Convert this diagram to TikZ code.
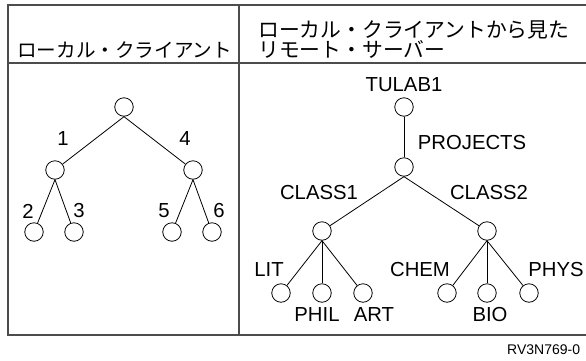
\documentclass[tikz,border=0pt]{standalone}
\usepackage{fontspec}
\setmainfont{Liberation Sans}
\newfontfamily\jpfont{Noto Sans CJK JP}
\begin{document}
\begin{tikzpicture}[x=1pt,y=-1pt,
  nd/.style={circle,draw,line width=0.8pt,minimum size=18.5pt,inner sep=0pt},
  lbl/.style={font=\fontsize{20.3}{22}\selectfont,inner sep=0pt},
  jp/.style={font=\jpfont\fontsize{19.6}{20}\selectfont,inner sep=0pt,anchor=west},
  jpr/.style={font=\jpfont\fontsize{20.8}{21}\selectfont,inner sep=0pt,anchor=west},
  edge/.style={line width=0.8pt},
  frame/.style={line width=1.3pt,draw=black!70}]
\useasboundingbox (0,0) rectangle (586,360);
% table frame
\coordinate (tl) at (8,5);
\coordinate (tr) at (586,5);
\coordinate (hl) at (8,63);
\coordinate (hr) at (586,63);
\coordinate (bl) at (8,335);
\coordinate (br) at (586,335);
\coordinate (mt) at (239,5);
\coordinate (mb) at (239,335);
\draw[frame] (tr) -- (tl) -- (bl) -- (br);
\draw[frame] (hl) -- (hr);
\draw[frame] (mt) -- (mb);
% headers
\node[jp] (h1) at (17,50) {ローカル・クライアント};
\node[jpr] (h2a) at (258,30) {ローカル・クライアントから見た};
\node[jpr] (h2b) at (258,49) {リモート・サーバー};
% left tree
\node[nd] (r) at (124,107) {};
\node[nd] (a) at (55,170) {};
\node[nd] (b) at (193,170) {};
\node[nd] (a1) at (34,232) {};
\node[nd] (a2) at (74,232) {};
\node[nd] (b1) at (172,232) {};
\node[nd] (b2) at (212,232) {};
\draw[edge] (r.south) -- (a);
\draw[edge] (r.south) -- (b);
\draw[edge] (a.south) -- (a1);
\draw[edge] (a.south) -- (a2);
\draw[edge] (b.south) -- (b1);
\draw[edge] (b.south) -- (b2);
\node[lbl] (l1) at (63,139) {1};
\node[lbl] (l4) at (185,139) {4};
\node[lbl] (l2) at (28,211) {2};
\node[lbl] (l3) at (79,211) {3};
\node[lbl] (l5) at (164,211) {5};
\node[lbl] (l6) at (219,211) {6};
% right tree
\node[nd] (R) at (404,107) {};
\node[nd] (P) at (404,167) {};
\node[nd] (C1) at (322,231) {};
\node[nd] (C2) at (487,231) {};
\node[nd] (lit) at (281,293) {};
\node[nd] (phil) at (322,293) {};
\node[nd] (art) at (363,293) {};
\node[nd] (chem) at (447,293) {};
\node[nd] (bio) at (487,293) {};
\node[nd] (phys) at (529,293) {};
\draw[edge] (R) -- (P);
\draw[edge] (P.south) -- (C1);
\draw[edge] (P.south) -- (C2);
\draw[edge] (C1.south) -- (lit);
\draw[edge] (C1.south) -- (phil);
\draw[edge] (C1.south) -- (art);
\draw[edge] (C2.south) -- (chem);
\draw[edge] (C2.south) -- (bio);
\draw[edge] (C2.south) -- (phys);
\node[lbl] (tTULAB) at (404,85) {TULAB1};
\node[lbl] (tPROJ) at (472,143) {PROJECTS};
\node[lbl] (tC1) at (319,193) {CLASS1};
\node[lbl] (tC2) at (489,193) {CLASS2};
\node[lbl] (tLIT) at (269,270) {LIT};
\node[lbl] (tPHIL) at (317,315) {PHIL};
\node[lbl] (tART) at (374,315) {ART};
\node[lbl] (tCHEM) at (420,270) {CHEM};
\node[lbl] (tBIO) at (490,315) {BIO};
\node[lbl] (tPHYS) at (556,270) {PHYS};
\node[lbl,anchor=west,font=\fontsize{14}{16}\selectfont] (id) at (507,350) {RV3N769-0};
\end{tikzpicture}
\end{document}
